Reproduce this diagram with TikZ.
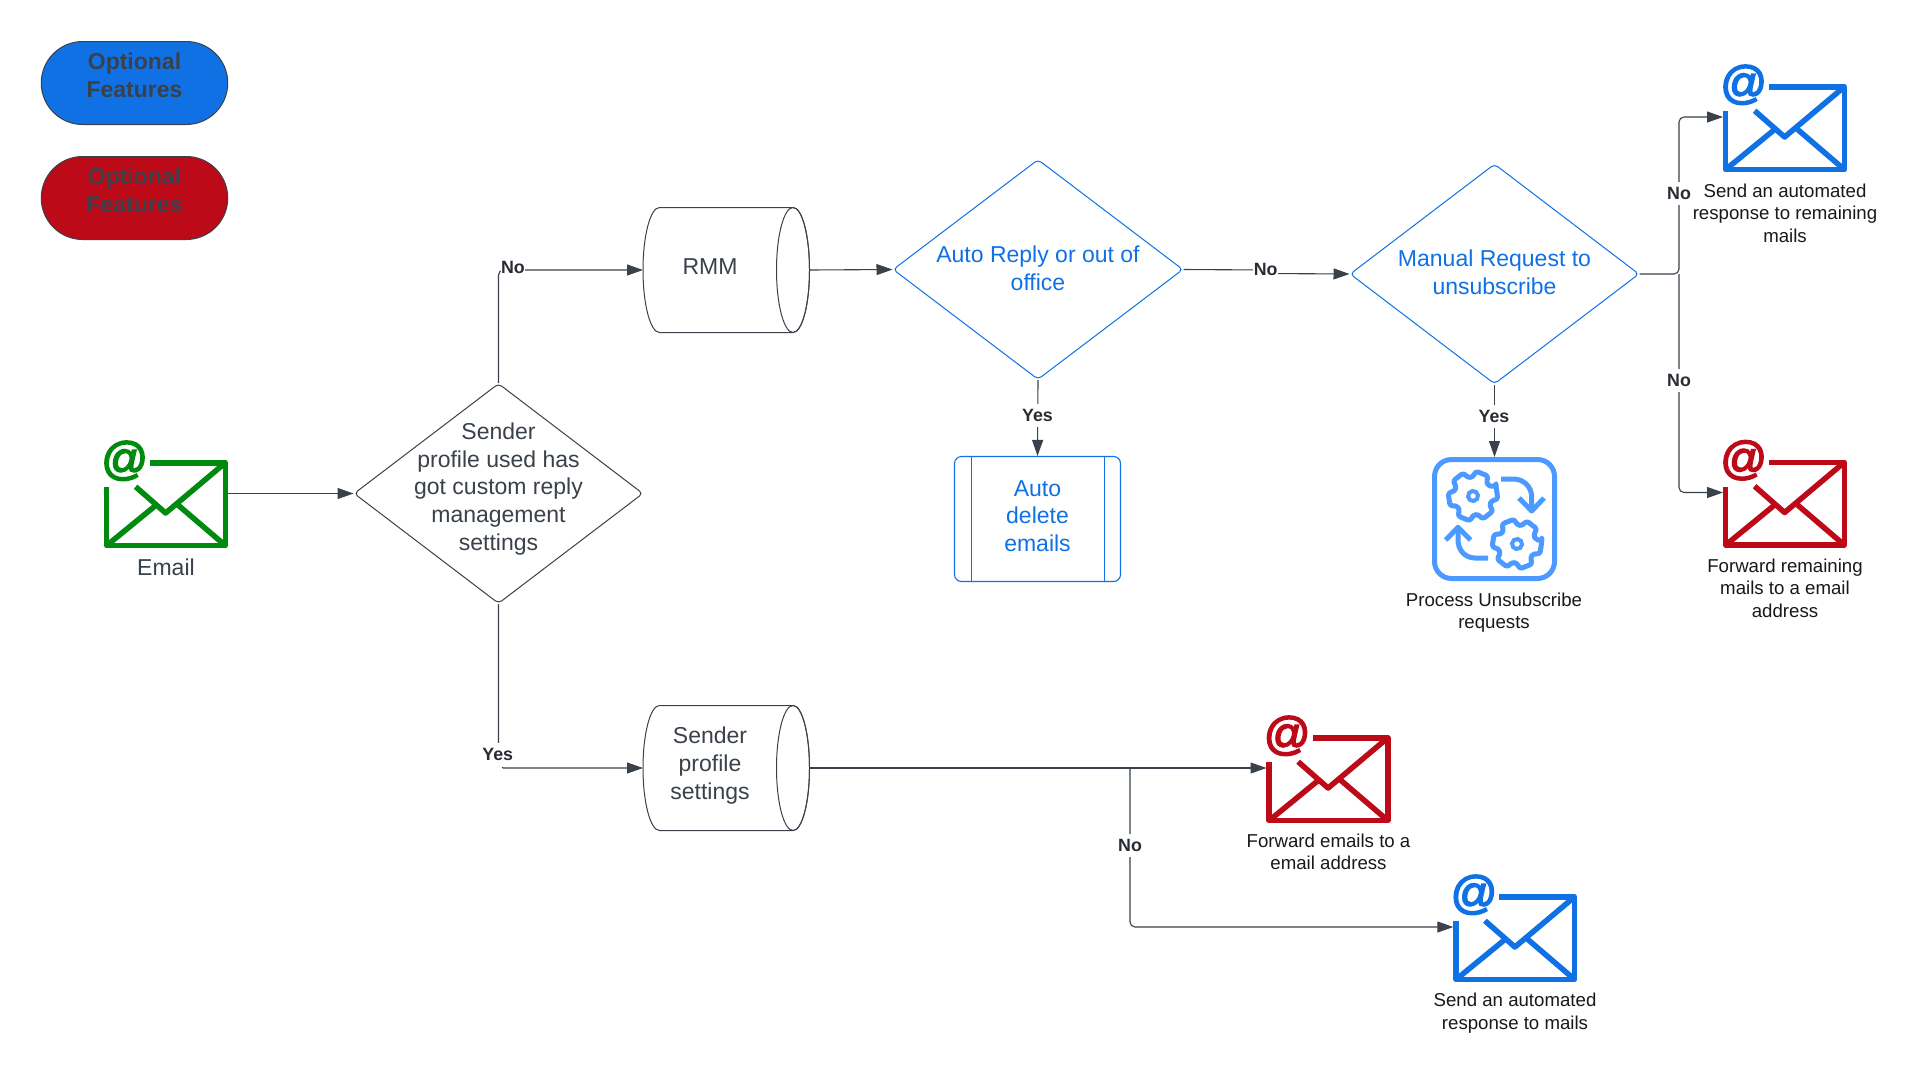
\documentclass[tikz,border=0pt]{standalone}
\usepackage{fontspec}
\setmainfont{Liberation Sans}
\newfontfamily\atfont[FakeBold=3.5]{Liberation Sans}
\usetikzlibrary{shapes.geometric,arrows.meta,calc}
\definecolor{ink}{HTML}{3A414A}
\definecolor{lab}{HTML}{282C33}
\definecolor{lblue}{HTML}{1071E5}
\definecolor{lred}{HTML}{BC0A18}
\definecolor{lgreen}{HTML}{008A0E}
\definecolor{gearblue}{HTML}{4C9AFF}
\tikzset{
  conn/.style={draw=ink,line width=1.1pt,rounded corners=5pt,-{Triangle[length=16pt,width=11pt]}},
  dia/.style={shape=diamond,aspect=1,inner sep=0pt,line width=1pt,rounded corners=4pt,fill=white},
  maintext/.style={align=center,inner sep=0pt,text=ink,font=\fontsize{23}{27.6}\selectfont},
  bluetext/.style={maintext,text=lblue},
  pilltext/.style={align=center,inner sep=0pt,text=ink,font=\bfseries\fontsize{23}{27.6}\selectfont},
  edgelabel/.style={fill=white,inner xsep=0.5pt,inner ysep=0pt,minimum height=23pt,text=lab,font=\bfseries\fontsize{17.8}{20}\selectfont},
  caption/.style={align=center,inner sep=0pt,text=black!90,font=\fontsize{18.65}{22.4}\selectfont},
  pill/.style={minimum width=186.5pt,minimum height=83pt,rounded corners=41.5pt,draw=ink,line width=1pt,inner sep=0pt},
}
% name, left, top, colour
\newcommand\envelopeicon[4]{
  \node[anchor=north west,minimum width=124pt,minimum height=88pt,inner sep=0pt,outer sep=0pt] (#1) at (#2,#3) {};
  \coordinate (#1in) at ($(#1.north west)+(0,33)$);
  \begin{scope}[shift={(#2,#3)},draw=#4,line width=5.5pt]
    \draw[line join=round] (2.7,27) -- (2.7,85.5) -- (121.3,85.5) -- (121.3,2.8) -- (46,2.8);
    \draw[line join=round] (31.6,26.7) -- (61.6,53) -- (121.3,2.8);
    \draw (2.7,85.5) -- (51,46);
    \draw (74,45) -- (121.3,85.5);
    \node[inner sep=0pt,text=#4,font=\atfont\fontsize{46}{46}\selectfont] at (20.7,0.8) {@};
  \end{scope}
}
% name, x, y, rotation
\newcommand\gearicon[3]{
  \begin{scope}[shift={(#1,#2)},rotate=#3,draw=gearblue,line width=5pt]
    \draw[rounded corners=2.5pt,line join=round] (-15:25)
      \foreach \a in {0,60,...,300} {
        -- (\a-15:25) -- (\a+15:25) -- (\a+23:19) -- (\a+37:19)
      } -- cycle;
    \draw[line width=4pt] (0,0) circle[radius=5pt];
  \end{scope}
}
% cylinder: name, left, top
\newcommand\drum[3]{
  \node[anchor=north west,minimum width=166.5pt,minimum height=125pt,inner sep=0pt,outer sep=0pt] (#1) at (#2,#3) {};
  \draw[draw=ink,line width=1pt,fill=white]
    ($(#1.north west)+(16.5,0)$) arc[start angle=90,end angle=270,x radius=16.5pt,y radius=62.5pt]
    -- ($(#1.south east)+(-16.5,0)$) arc[start angle=270,end angle=450,x radius=16.5pt,y radius=62.5pt] -- cycle;
  \draw[draw=ink,line width=1pt] ($(#1.east)+(-16.5,0)$) ellipse[x radius=16.5pt,y radius=62.5pt];
}
\begin{document}
\begin{tikzpicture}[x=1pt,y=-1pt]
\useasboundingbox (0,0) rectangle (1920,1069);
\fill[white] (0,0) rectangle (1920,1069);

% legend
\node[pill,fill=lblue] (pillA) at (134.5,83) {};
\node[pilltext] (pillAtext) at (134.5,75) {Optional\\Features};
\node[pill,fill=lred] (pillB) at (134.5,198) {};
\node[pilltext] (pillBtext) at (134.5,190.5) {Optional\\Features};

% icons
\envelopeicon{mailIn}{104}{460}{lgreen}
\node[maintext] (mailInText) at (166,567) {Email};
\envelopeicon{autoResp}{1723}{84}{lblue}
\node[caption] (autoRespText) at (1785,213) {Send an automated\\response to remaining\\mails};
\envelopeicon{fwdRemain}{1723}{459.5}{lred}
\node[caption] (fwdRemainText) at (1785,588) {Forward remaining\\mails to a email\\address};
\envelopeicon{fwdAll}{1266.5}{735}{lred}
\node[caption] (fwdAllText) at (1328.5,852) {Forward emails to a\\email address};
\envelopeicon{respAll}{1453.3}{894}{lblue}
\node[caption] (respAllText) at (1515,1013) {Send an automated\\response to mails};

% diamonds
\node[dia,draw=ink,minimum width=289pt,minimum height=220pt] (profile) at (498.5,493.5) {};
\node[maintext] (profileText) at (498.5,489) {Sender\\profile used has\\got custom reply\\management\\settings};
\node[dia,draw=lblue,minimum width=290pt,minimum height=220pt] (autoReply) at (1038,269.5) {};
\node[bluetext] (autoReplyText) at (1038,268.5) {Auto Reply or out of\\office};
\node[dia,draw=lblue,minimum width=289pt,minimum height=220pt] (manual) at (1494.5,274) {};
\node[bluetext] (manualText) at (1494.5,272) {Manual Request to\\unsubscribe};

% cylinders
\drum{rmm}{643}{207.5}
\node[maintext] (rmmText) at (710,267) {RMM};
\drum{sps}{643}{705.5}
\node[maintext] (spsText) at (710,765.5) {Sender\\profile\\settings};

% auto delete
\node[draw=lblue,line width=1.1pt,rounded corners=7pt,minimum width=166pt,minimum height=125pt,inner sep=0pt] (autoDelete) at (1037.5,519) {};
\draw[lblue,line width=1pt] (971,456.5) -- (971,581.5) (1104,456.5) -- (1104,581.5);
\node[bluetext] (autoDeleteText) at (1037.5,516) {Auto\\delete\\emails};

% process icon
\node[draw=gearblue,line width=5pt,rounded corners=17pt,minimum width=120pt,minimum height=119pt,inner sep=0pt] (process) at (1494.5,519) {};
\gearicon{1473}{496}{8}
\gearicon{1517}{544}{-8}
\draw[gearblue,line width=5pt] (1501,479) -- (1513,479) .. controls (1524,479) and (1531.7,487) .. (1531.7,497) -- (1531.7,509);
\draw[gearblue,line width=5pt,line join=round] (1519,498) -- (1531.7,511) -- (1544,498);
\draw[gearblue,line width=5pt] (1488,558) -- (1475,558) .. controls (1465,558) and (1458,550) .. (1458,540) -- (1458,529);
\draw[gearblue,line width=5pt,line join=round] (1445.7,540) -- (1458,527.3) -- (1470.7,540);
\node[caption] (processText) at (1494,612.5) {Process Unsubscribe\\requests};

% junctions
\coordinate (jManual) at (1679,274);
\coordinate (jSps) at (1130,768);
\coordinate (stepA) at (1266,270);
\coordinate (stepB) at (1266,273.5);

% connectors
\draw[conn] (mailIn.east |- profile.west) -- (profile.west);
\draw[conn] (profile.north) |- (rmm.west);
\draw[conn] (profile.south) |- (sps.west);
\draw[conn] (rmm.east) -- (autoReply.west);
\draw[conn,rounded corners=0pt] (autoReply.east) -- (stepA) -- (stepB) -- (manual.west);
\draw[conn] (autoReply.south) -- (autoDelete.north);
\draw[conn] (manual.south) -- (process.north);
\draw[conn] (manual.east) -- (jManual) |- (autoRespin);
\draw[conn] (jManual) |- (fwdRemainin);
\draw[conn] (sps.east) -- (fwdAllin);
\draw[conn] (jSps) |- (respAllin);

% connector labels
\fill[white] (494,758) rectangle (501.7,772);
\node[edgelabel] (lbNoA) at (513,267.5) {No};
\node[edgelabel] (lbYesA) at (497.7,754) {Yes};
\node[edgelabel] (lbNoB) at (1265.7,269.5) {No};
\node[edgelabel] (lbYesB) at (1037.5,415.5) {Yes};
\node[edgelabel] (lbYesC) at (1494,416.5) {Yes};
\node[edgelabel] (lbNoC) at (1679,193) {No};
\node[edgelabel] (lbNoD) at (1679,380.5) {No};
\node[edgelabel] (lbNoE) at (1130,845) {No};
\end{tikzpicture}
\end{document}
